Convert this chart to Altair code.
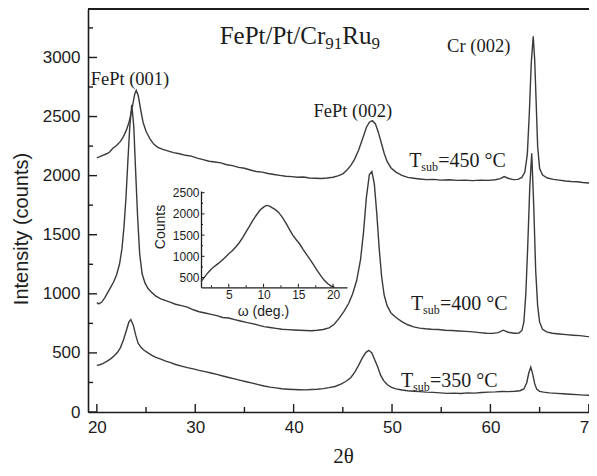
import altair as alt
import pandas as pd

# ---------------- data ----------------
# Tsub = 450 C
x450 = [20.0, 20.3, 20.6, 21.0, 21.3, 21.6, 22.0, 22.4, 22.7, 23.0, 23.3, 23.6, 23.85, 24.0, 24.2, 24.45,
        24.7, 25.0, 25.4, 25.8, 26.2, 26.7, 27.2, 27.8, 28.4, 29.0, 29.6, 30.2, 30.8, 31.4, 32.0, 32.6,
        33.2, 33.8, 34.4, 35.0, 35.6, 36.2, 36.8, 37.4, 38.0, 38.6, 39.2, 39.8, 40.4, 41.0, 41.6, 42.2,
        42.8, 43.4, 44.0, 44.5, 45.0, 45.4, 45.8, 46.2, 46.6, 47.0, 47.4, 47.7, 48.0, 48.3, 48.6, 48.9,
        49.2, 49.5, 49.9, 50.4, 51.0, 51.6, 52.2, 52.8, 53.5, 54.2, 55.0, 55.8, 56.6, 57.4, 58.2, 59.0,
        59.8, 60.5, 61.0, 61.4, 61.8, 62.3, 62.8, 63.2, 63.5, 63.75, 63.95, 64.15, 64.35, 64.5, 64.65,
        64.8, 65.0, 65.3, 65.8, 66.4, 67.0, 67.6, 68.2, 68.8, 69.4, 70.0, 70.3]
y450 = [2150, 2160, 2172, 2185, 2200, 2230, 2255, 2290, 2330, 2385, 2460, 2580, 2690, 2722, 2680, 2560,
        2450, 2375, 2310, 2265, 2240, 2222, 2210, 2195, 2185, 2172, 2165, 2148, 2135, 2122, 2115, 2108,
        2092, 2085, 2070, 2062, 2048, 2035, 2030, 2018, 2010, 2002, 1995, 1992, 1986, 1988, 1980, 1978,
        1976, 1980, 1986, 1998, 2015, 2045, 2085, 2140, 2215, 2310, 2410, 2452, 2465, 2440, 2370, 2280,
        2190, 2120, 2065, 2030, 2002, 1985, 1978, 1972, 1966, 1968, 1962, 1965, 1960, 1962, 1958, 1962,
        1960, 1965, 1975, 1992, 1978, 1966, 1968, 1985, 2030, 2180, 2520, 2950, 3180, 2980, 2620,
        2250, 2060, 2005, 1980, 1968, 1962, 1955, 1950, 1948, 1942, 1938, 1935]

# Tsub = 400 C
x400 = [20.0, 20.2, 20.5, 20.8, 21.1, 21.4, 21.7, 22.0, 22.3, 22.55, 22.75, 22.95, 23.15, 23.35, 23.55,
        23.75, 23.95, 24.15, 24.35, 24.6, 24.9, 25.2, 25.6, 26.0, 26.5, 27.0, 27.5, 28.0, 28.6, 29.2,
        29.8, 30.4, 31.0, 31.6, 32.2, 32.8, 33.4, 34.0, 34.6, 35.2, 35.8, 36.4, 37.0, 37.6, 38.2, 38.8,
        39.4, 40.0, 40.6, 41.2, 41.8, 42.4, 43.0, 43.6, 44.1, 44.6, 45.1, 45.6, 46.0, 46.4, 46.8, 47.1,
        47.4, 47.7, 47.95, 48.2, 48.45, 48.7, 48.95, 49.2, 49.5, 49.9, 50.4, 51.0, 51.6, 52.2, 52.8,
        53.4, 54.0, 54.7, 55.4, 56.1, 56.8, 57.5, 58.2, 58.9, 59.6, 60.2, 60.8, 61.3, 61.8, 62.4, 62.9,
        63.2, 63.4, 63.6, 63.8, 64.0, 64.2, 64.4, 64.6, 64.8, 65.0, 65.3, 65.7, 66.3, 67.0, 67.7, 68.4,
        69.1, 69.7, 70.3]
y400 = [925, 915, 930, 965, 1010, 1055, 1100, 1160, 1250, 1380, 1560, 1800, 2120, 2420, 2600,
        2420, 2020, 1640, 1340, 1170, 1090, 1045, 1010, 980, 958, 942, 928, 912, 900, 888,
        865, 848, 838, 826, 815, 800, 795, 782, 770, 758, 748, 735, 722, 715, 708, 700,
        697, 694, 692, 690, 688, 692, 698, 712, 740, 790, 850, 920, 1000, 1110, 1290, 1520,
        1820, 2010, 2035, 1930, 1680, 1380, 1140, 990, 900, 838, 800, 765, 738, 720, 710,
        704, 700, 698, 692, 690, 686, 682, 678, 672, 666, 665, 672, 692, 675, 666, 668,
        690, 760, 1000, 1420, 1900, 2190, 1750, 1200, 900, 760, 700, 678, 666, 660, 655, 650,
        646, 640, 636]

# Tsub = 350 C
x350 = [20.0, 20.3, 20.6, 21.0, 21.4, 21.8, 22.1, 22.4, 22.7, 23.0, 23.25, 23.45, 23.7, 23.95, 24.2,
        24.5, 24.8, 25.2, 25.6, 26.0, 26.5, 27.0, 27.5, 28.0, 28.6, 29.2, 29.8, 30.4, 31.0, 31.6, 32.2,
        32.8, 33.4, 34.0, 34.6, 35.2, 35.8, 36.4, 37.0, 37.6, 38.2, 38.8, 39.4, 40.0, 40.6, 41.2, 41.8,
        42.4, 43.0, 43.6, 44.2, 44.8, 45.3, 45.8, 46.2, 46.6, 47.0, 47.35, 47.65, 47.95, 48.25, 48.55,
        48.85, 49.15, 49.5, 49.9, 50.4, 51.0, 51.6, 52.2, 52.8, 53.5, 54.2, 54.9, 55.6, 56.3, 57.0,
        57.7, 58.4, 59.1, 59.8, 60.5, 61.2, 61.8, 62.5, 63.0, 63.4, 63.7, 63.9, 64.1, 64.3, 64.5, 64.7,
        65.0, 65.4, 66.0, 66.7, 67.4, 68.1, 68.8, 69.5, 70.3]
y350 = [395, 400, 410, 428, 450, 478, 505, 545, 610, 690, 760, 782, 735, 650, 580,
        545, 522, 500, 480, 462, 448, 430, 418, 402, 388, 375, 365, 352, 342, 330, 318,
        305, 292, 280, 268, 256, 244, 232, 220, 210, 204, 197, 193, 190, 188, 187, 190,
        193, 198, 206, 216, 235, 258, 290, 335, 395, 460, 505, 522, 500, 440, 380,
        310, 265, 232, 210, 196, 186, 180, 176, 172, 168, 166, 162, 158, 160, 157,
        162, 160, 165, 168, 170, 174, 172, 176, 180, 195, 250, 330, 380, 320, 240, 195,
        175, 168, 162, 158, 154, 150, 147, 143, 141]

# inset: rocking curve
omega = [1.0, 1.5, 2.0, 2.5, 3.0, 3.5, 4.0, 4.5, 5.0, 5.5, 6.0, 6.5, 7.0, 7.5, 8.0, 8.5, 9.0, 9.5,
         10.0, 10.4, 10.8, 11.2, 11.7, 12.2, 12.7, 13.2, 13.7, 14.2, 14.7, 15.2, 15.7, 16.2, 16.7,
         17.2, 17.7, 18.2, 18.7, 19.2, 19.7, 20.2]
counts = [400, 510, 615, 700, 770, 835, 900, 980, 1060, 1130, 1220, 1320, 1440, 1580, 1720, 1860,
          1980, 2090, 2160, 2200, 2190, 2150, 2100, 2030, 1920, 1790, 1640, 1500, 1390, 1290, 1160,
          1040, 920, 800, 670, 550, 440, 360, 300, 275]

series_names = ["450", "400", "350"]

x_major = [20, 30, 40, 50, 60, 70]
x_minor = [25, 35, 45, 55, 65]
y_major = [0, 500, 1000, 1500, 2000, 2500, 3000]
y_minor = [250, 750, 1250, 1750, 2250, 2750, 3250]
inset_x_major = [5, 10, 15, 20]
inset_x_minor = [2.5, 7.5, 12.5, 17.5]
inset_y_major = [500, 1000, 1500, 2000, 2500]
inset_y_minor = [750, 1250, 1750, 2250]

title_parts = ["FePt/Pt/Cr", "91", "Ru", "9"]
peak_labels = ["FePt (001)", "FePt (002)", "Cr (002)"]
temp_labels = ["=450 °C", "=400 °C", "=350 °C"]

# ---------------- layout / style ----------------
W, H = 501, 403
X_DOMAIN = [19.1, 70.02]
Y_DOMAIN = [0, 3410]
SANS = "Liberation Sans"
SERIF = "Liberation Serif"
INK = "#1c1c1c"
CURVE = "#3a3a3a"

curves = pd.concat([
    pd.DataFrame({"tt": x450, "I": y450, "s": series_names[0]}),
    pd.DataFrame({"tt": x400, "I": y400, "s": series_names[1]}),
    pd.DataFrame({"tt": x350, "I": y350, "s": series_names[2]}),
], ignore_index=True)


def xsc():
    return alt.Scale(domain=X_DOMAIN, nice=False, zero=False)


def ysc():
    return alt.Scale(domain=Y_DOMAIN, nice=False, zero=False)


x_axis = alt.Axis(orient="bottom", values=x_major, format="d", title="2θ", titleFont=SERIF,
                  titleFontSize=21, titleFontWeight="normal", titleColor=INK, titleX=255, titleY=50,
                  titleAlign="center", titleBaseline="alphabetic", labelFont=SANS, labelFontSize=17,
                  labelColor=INK, labelPadding=7, labelFlush=False, labelOverlap=False,
                  ticks=False, grid=False, domainColor=INK, domainWidth=1.6)
y_axis = alt.Axis(orient="left", values=y_major, format="d", title="Intensity (counts)",
                  titleFont=SANS, titleFontSize=20, titleFontWeight="normal", titleColor=INK,
                  titleAngle=270, titleX=-61, titleY=219.5, titleAlign="center",
                  titleBaseline="alphabetic", labelFont=SANS, labelFontSize=17, labelColor=INK,
                  labelPadding=8, ticks=False, grid=False, domainColor=INK, domainWidth=1.6)

lines = alt.Chart(curves).mark_line(color=CURVE, strokeWidth=1.4).encode(
    x=alt.X("tt:Q", scale=xsc(), axis=x_axis),
    y=alt.Y("I:Q", scale=ysc(), axis=y_axis),
    detail="s:N",
)


def ytick(vals, length):
    return alt.Chart(pd.DataFrame({"I": vals})).mark_rule(color=INK, strokeWidth=1.4).encode(
        y=alt.Y("I:Q", scale=ysc(), axis=None), x=alt.value(0), x2=alt.value(length))


def xtick(vals, length):
    return alt.Chart(pd.DataFrame({"tt": vals})).mark_rule(color=INK, strokeWidth=1.4).encode(
        x=alt.X("tt:Q", scale=xsc(), axis=None), y=alt.value(H), y2=alt.value(H - length))


top_border = alt.Chart(pd.DataFrame({"k": [0]})).mark_rule(color=INK, strokeWidth=2).encode(
    x=alt.value(0), x2=alt.value(W + 10), y=alt.value(0))


def label(text, x, y, size, dx=0, dy=0, font=SERIF):
    return alt.Chart(pd.DataFrame({"tt": [x], "I": [y], "t": [text]})).mark_text(
        align="left", baseline="alphabetic", font=font, fontSize=size, dx=dx, dy=dy, color=INK
    ).encode(x=alt.X("tt:Q", scale=xsc(), axis=None), y=alt.Y("I:Q", scale=ysc(), axis=None),
             text="t:N")


texts = [
    label(title_parts[0], 32.48, 3118, 25),
    label(title_parts[1], 32.48, 3118, 17, dx=105.6, dy=5),
    label(title_parts[2], 32.48, 3118, 25, dx=122.6),
    label(title_parts[3], 32.48, 3118, 17, dx=151.8, dy=5),
    label(peak_labels[0], 19.37, 2767, 18.5),
    label(peak_labels[1], 42.01, 2499, 18.5),
    label(peak_labels[2], 55.6, 3049, 18.5),
]
for (tx, ty), lab in zip([(51.74, 2076), (51.92, 863), (50.9, 214)], temp_labels):
    texts += [label("T", tx, ty, 20), label("sub", tx, ty, 12, dx=12.2, dy=4),
              label(lab, tx, ty, 20, dx=29)]

# ---------------- inset ----------------
IX_RANGE = [113, 259]
IY_RANGE = [278.3, 182]


def ixs():
    return alt.Scale(domain=[1, 22], range=IX_RANGE, nice=False, zero=False)


def iys():
    return alt.Scale(domain=[270, 2540], range=IY_RANGE, nice=False, zero=False)


inset_df = pd.DataFrame({"w": omega, "c": counts})

ix_axis = alt.Axis(orient="bottom", offset=-(H - IY_RANGE[0]), values=inset_x_major, format="d",
                   title="ω (deg.)", titleFont=SANS, titleFontSize=14, titleFontWeight="normal",
                   titleColor=INK, titleX=175, titleY=28, titleAlign="center",
                   titleBaseline="alphabetic", labelFont=SANS, labelFontSize=12, labelColor=INK,
                   labelPadding=2, labelFlush=False, ticks=False, grid=False, domainColor=INK,
                   domainWidth=1.3)
iy_axis = alt.Axis(orient="left", offset=-IX_RANGE[0], values=inset_y_major, format="d",
                   title="Counts", titleFont=SANS, titleFontSize=14, titleFontWeight="normal",
                   titleColor=INK, titleAngle=270, titleX=-37, titleY=217.5, titleAlign="center",
                   titleBaseline="alphabetic", labelFont=SANS, labelFontSize=12, labelColor=INK,
                   labelPadding=2, ticks=False, grid=False, domainColor=INK, domainWidth=1.3)

inset_line = alt.Chart(inset_df).mark_line(color=CURVE, strokeWidth=1.4).encode(
    x=alt.X("w:Q", scale=ixs(), axis=ix_axis), y=alt.Y("c:Q", scale=iys(), axis=iy_axis))


def iytick(vals, length):
    return alt.Chart(pd.DataFrame({"c": vals})).mark_rule(color=INK, strokeWidth=1).encode(
        y=alt.Y("c:Q", scale=iys(), axis=None), x=alt.value(IX_RANGE[0]),
        x2=alt.value(IX_RANGE[0] + length))


def ixtick(vals, length):
    return alt.Chart(pd.DataFrame({"w": vals})).mark_rule(color=INK, strokeWidth=1).encode(
        x=alt.X("w:Q", scale=ixs(), axis=None), y=alt.value(IY_RANGE[0]),
        y2=alt.value(IY_RANGE[0] - length))


layers = [lines, ytick(y_major, 9), ytick(y_minor, 5), xtick(x_major, 8), xtick(x_minor, 5),
          top_border, *texts,
          inset_line, iytick(inset_y_major, 3.5), iytick(inset_y_minor, 2),
          ixtick(inset_x_major, 3.5), ixtick(inset_x_minor, 2)]

chart = alt.layer(*layers).resolve_scale(x="independent", y="independent").properties(
    width=W, height=H,
    autosize=alt.AutoSizeParams(type="none"),
    padding={"left": 80, "top": 1, "right": 0, "bottom": 54},
).configure_view(strokeWidth=0, strokeOpacity=0)

chart.save("out.html", embed_options={"renderer": "svg", "actions": False})
